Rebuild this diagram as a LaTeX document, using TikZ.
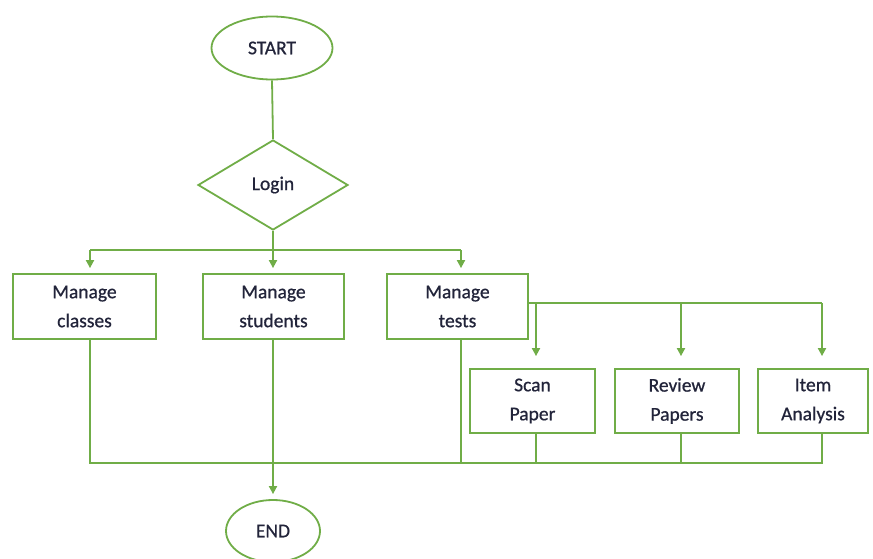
\documentclass[tikz,border=0pt]{standalone}
\usepackage{fontspec}
\setmainfont{Carlito}[FakeBold=0.7]
\usetikzlibrary{shapes.geometric,arrows.meta,calc}
\definecolor{gline}{HTML}{70AD47}
\definecolor{gtext}{HTML}{22243A}
\begin{document}
\begin{tikzpicture}[x=1pt,y=-1pt,
  every node/.style={font=\fontsize{19.5}{29}\selectfont,text=gtext,align=center,inner sep=0pt},
  shp/.style={draw=gline,line width=1.8pt,fill=white},
  boxnode/.style={shp,rectangle,minimum height=65pt},
  con/.style={draw=gline,line width=1.8pt},
  arr/.style={con,-{Triangle[length=8pt,width=8pt]}}]
\useasboundingbox (0,0) rectangle (873,559);
% nodes
\node[shp,ellipse,minimum width=121pt,minimum height=63pt] (start) at (272,48) {START};
\node[shp,diamond,minimum width=150pt,minimum height=90pt,aspect=1.667] (login) at (273,185) {Login};
\node[boxnode,minimum width=143pt] (classes) at (84.5,306.5) {Manage\\classes};
\node[boxnode,minimum width=141pt] (students) at (273.5,306.5) {Manage\\students};
\node[boxnode,minimum width=141pt] (tests) at (457.5,306.5) {Manage\\tests};
\node[boxnode,minimum width=125pt,minimum height=64pt] (scan) at (532.5,401) {Scan\\Paper};
\node[boxnode,minimum width=124pt,minimum height=64pt] (review) at (677,401) {Review\\Papers};
\node[boxnode,minimum width=110pt,minimum height=64pt] (item) at (813,401) {Item\\Analysis};
\node[shp,ellipse,minimum width=94pt,minimum height=62pt] (end) at (273,531) {END};
% helper coordinates
\coordinate (bus1) at (0,250);
\coordinate (bus2) at (0,303);
\coordinate (bus3) at (0,463);
\coordinate (xc) at (90,0);
\coordinate (xs) at (273,0);
\coordinate (xt) at (461,0);
\coordinate (xsc) at (536,0);
\coordinate (xr) at (681,0);
\coordinate (xi) at (822,0);
% connectors
\draw[con] (start.south) -- (login.north);
\draw[con] (login.south) -- (xs |- bus1);
\draw[con] (xc |- bus1) -- (xt |- bus1);
\draw[arr,shorten >=5pt] (xc |- bus1) -- (xc |- classes.north);
\draw[arr,shorten >=5pt] (xs |- bus1) -- (xs |- students.north);
\draw[arr,shorten >=5pt] (xt |- bus1) -- (xt |- tests.north);
\draw[con] (tests.east |- bus2) -- (xi |- bus2);
\draw[arr,shorten >=12pt] (xsc |- bus2) -- (xsc |- scan.north);
\draw[arr,shorten >=12pt] (xr |- bus2) -- (xr |- review.north);
\draw[arr,shorten >=12pt] (xi |- bus2) -- (xi |- item.north);
\draw[con] (xc |- classes.south) -- (xc |- bus3) -- (xi |- bus3) -- (xi |- item.south);
\draw[con] (xt |- tests.south) -- (xt |- bus3);
\draw[con] (xsc |- scan.south) -- (xsc |- bus3);
\draw[con] (xr |- review.south) -- (xr |- bus3);
\draw[arr,shorten >=5pt] (xs |- students.south) -- (end.north);
\end{tikzpicture}
\end{document}
